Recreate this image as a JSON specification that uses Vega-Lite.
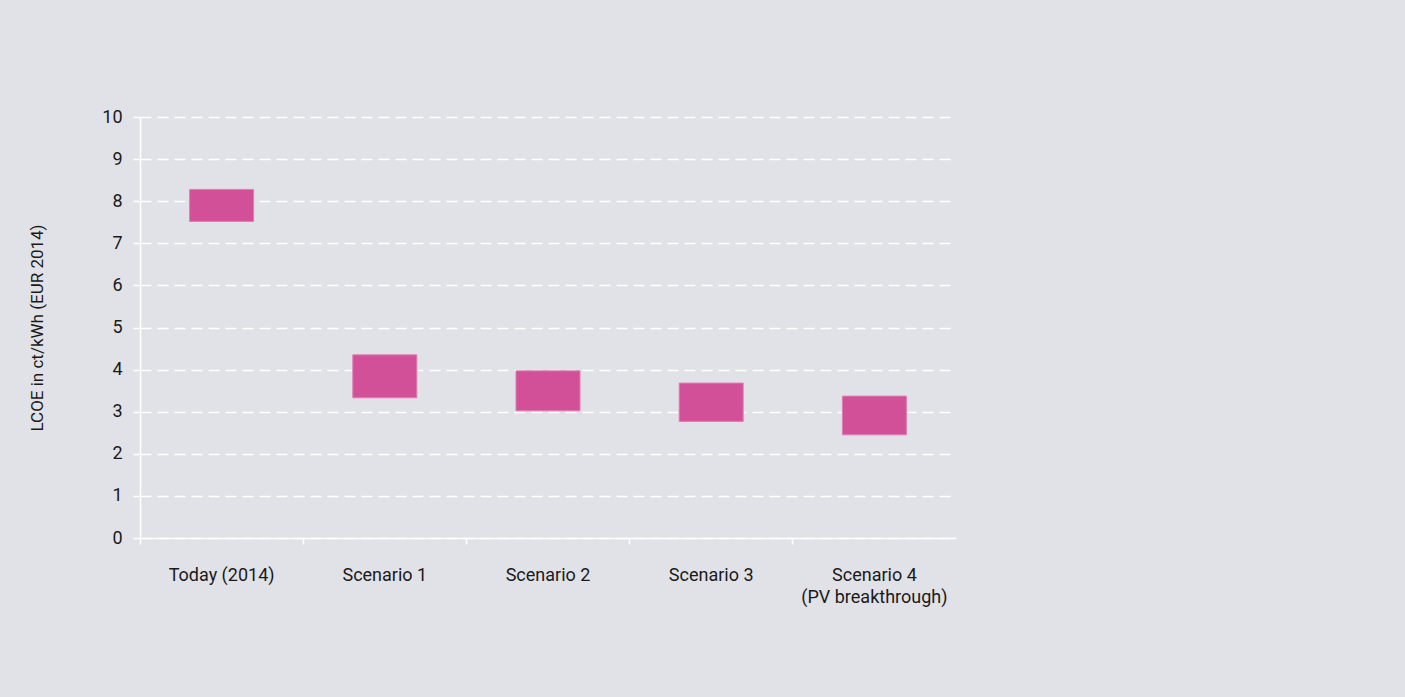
{
  "$schema": "https://vega.github.io/schema/vega-lite/v6.json",
  "autosize": {"type": "none"},
  "width": 816,
  "height": 421,
  "padding": {"left": 140, "top": 117, "right": 449, "bottom": 159},
  "background": "#e1e2e7",
  "config": {
    "view": {"stroke": null},
    "font": "Roboto"
  },
  "data": {
    "values": [
      {"case": "Today (2014)", "low": 7.52, "high": 8.28},
      {"case": "Scenario 1", "low": 3.33, "high": 4.35},
      {"case": "Scenario 2", "low": 3.02, "high": 3.97},
      {"case": "Scenario 3", "low": 2.77, "high": 3.68},
      {"case": "Scenario 4", "low": 2.45, "high": 3.37}
    ]
  },
  "mark": {"type": "bar", "width": 64, "color": "#d25097", "stroke": "#e07db3", "strokeWidth": 1},
  "encoding": {
    "x": {
      "field": "case",
      "type": "nominal",
      "sort": null,
      "scale": {"paddingInner": 0, "paddingOuter": 0},
      "axis": {
        "title": null,
        "labelAngle": 0,
        "labelFontSize": 18,
        "labelColor": "#1a1a1a",
        "labelPadding": 22,
        "labelLineHeight": 22,
        "labelExpr": "datum.value == 'Scenario 4' ? ['Scenario 4', '(PV breakthrough)'] : datum.label",
        "domainColor": "#ffffff",
        "domainWidth": 1.5,
        "tickColor": "#ffffff",
        "tickSize": 6,
        "tickWidth": 1.5,
        "bandPosition": 0,
        "grid": false
      }
    },
    "y": {
      "field": "low",
      "type": "quantitative",
      "scale": {"domain": [0, 10], "nice": false},
      "axis": {
        "title": "LCOE in ct/kWh (EUR 2014)",
        "titleFontSize": 17,
        "titleFontWeight": "normal",
        "titleColor": "#1a1a1a",
        "titlePadding": 55,
        "values": [0, 1, 2, 3, 4, 5, 6, 7, 8, 9, 10],
        "labelFontSize": 18,
        "labelColor": "#1a1a1a",
        "labelPadding": 11,
        "domainColor": "#ffffff",
        "domainWidth": 1.5,
        "tickColor": "#ffffff",
        "tickSize": 7,
        "tickWidth": 1.5,
        "grid": true,
        "gridColor": "#ffffff",
        "gridWidth": 1.5,
        "gridDash": [11, 6]
      }
    },
    "y2": {"field": "high"}
  }
}
